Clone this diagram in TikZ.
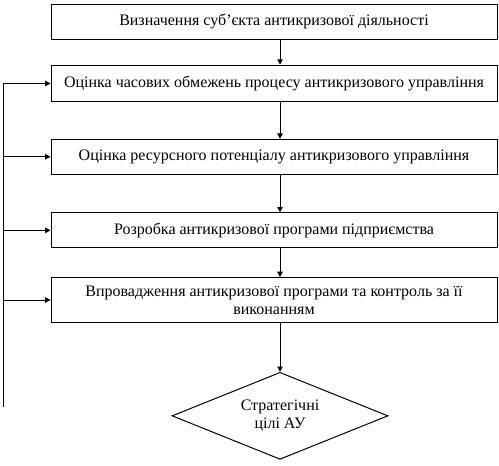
\documentclass[tikz,border=0pt]{standalone}
\usepackage{fontspec}
\setmainfont{Liberation Serif}
\usetikzlibrary{shapes.geometric, arrows.meta, positioning, calc}
\tikzset{
  block/.style={rectangle, draw=black, fill=white,
    minimum width=334.5pt, minimum height=26.25pt, inner sep=2pt,
    align=center, font=\fontsize{12}{13.6}\selectfont, line width=0.75pt},
  decision/.style={diamond, draw=black, fill=white, aspect=2.5,
    minimum width=162pt, minimum height=65.25pt, inner sep=0pt,
    align=center, font=\fontsize{12}{13.6}\selectfont, line width=0.75pt},
  arrow/.style={-{Triangle[length=4pt,width=4pt]}, line width=0.75pt},
  line/.style={line width=0.75pt}
}

\begin{document}
\begin{tikzpicture}[x=0.75pt, y=-0.75pt]
  \useasboundingbox (0,0) rectangle (499,465);

  % Main chain of stages
  \node[block] (subj) at (274,21.5) {Визначення суб’єкта антикризової діяльності};
  \node[block, minimum height=27.4pt, below=18.9pt of subj] (time) {Оцінка часових обмежень процесу антикризового управління};
  \node[block, below=27.4pt of time] (res) {Оцінка ресурсного потенціалу антикризового управління};
  \node[block, below=28.2pt of res] (prog) {Розробка антикризової програми підприємства};
  \node[block, minimum height=33.75pt, below=21.5pt of prog] (impl) {Впровадження антикризової програми та контроль за її\\виконанням};
  \node[decision, below=36.6pt of impl, xshift=4.5pt] (goals) {Стратегічні\\цілі АУ};

  % Downward arrows
  \draw[arrow] (subj.south -| goals.north) -- (time.north -| goals.north);
  \draw[arrow] (time.south -| goals.north) -- (res.north -| goals.north);
  \draw[arrow] (res.south -| goals.north) -- (prog.north -| goals.north);
  \draw[arrow] (prog.south -| goals.north) -- (impl.north -| goals.north);
  \draw[arrow] (impl.south -| goals.north) -- (goals.north);

  % Feedback line on the left
  \coordinate (fbend) at (3,407);
  \draw[line] (fbend |- time.west) -- (fbend);
  \foreach \b in {time,res,prog,impl}
    \draw[arrow] (fbend |- \b.west) -- (\b.west);
\end{tikzpicture}
\end{document}
